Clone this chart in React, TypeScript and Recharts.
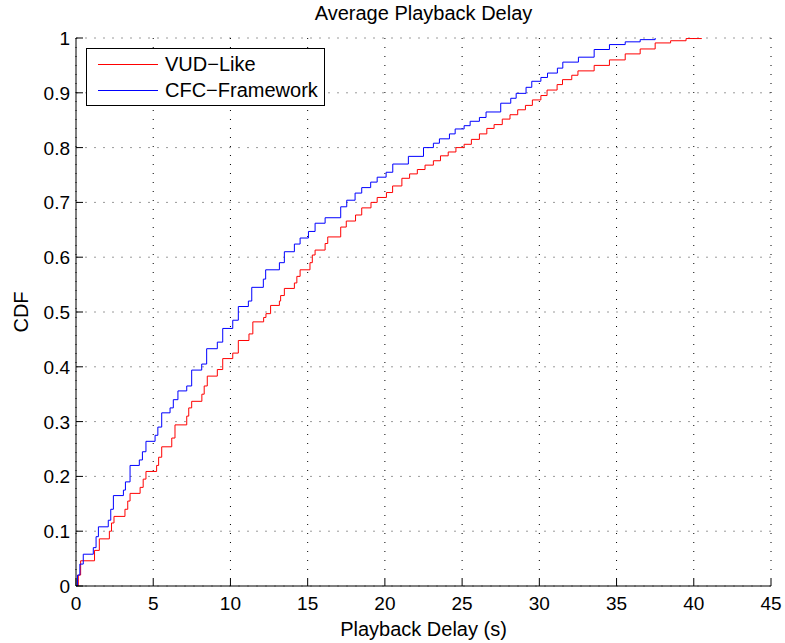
import { LineChart, Line, XAxis, YAxis, CartesianGrid, Legend, Label } from 'recharts';

// delay (s) where each CDF step begins
const vudDelay = [0, 0.15, 0.3, 1.2, 1.51, 2.16, 2.3, 2.46, 3.17, 3.35, 3.5, 4.15, 4.35, 4.53, 5.22, 5.35, 5.55, 6.2, 6.41, 7.17, 7.3, 7.49, 8.15, 8.3, 8.5, 9.15, 9.5, 10.15, 10.51, 11.2, 11.45, 12.15, 12.3, 12.6, 13.17, 13.25, 13.49, 14.14, 14.3, 14.51, 15.15, 15.3, 15.48, 16.13, 16.3, 17.14, 17.5, 18.1, 18.5, 19.1, 19.5, 20.1, 20.5, 21.1, 21.6, 22.1, 22.6, 23.14, 23.6, 24.1, 24.6, 25.13, 25.6, 26.12, 26.6, 27.07, 27.6, 28.1, 28.6, 29.1, 29.55, 30.1, 30.5, 31.15, 31.5, 32.1, 32.5, 33.55, 34.54, 35.56, 36.53, 37.5, 38.5, 39.5, 40.5];
const vudCdf = [0, 0.02, 0.046, 0.065, 0.086, 0.1, 0.115, 0.127, 0.14, 0.155, 0.169, 0.18, 0.195, 0.209, 0.22, 0.235, 0.254, 0.27, 0.294, 0.31, 0.325, 0.337, 0.35, 0.365, 0.383, 0.395, 0.415, 0.425, 0.448, 0.46, 0.482, 0.49, 0.497, 0.512, 0.52, 0.53, 0.543, 0.553, 0.565, 0.577, 0.59, 0.604, 0.613, 0.625, 0.637, 0.655, 0.666, 0.677, 0.69, 0.7, 0.709, 0.718, 0.73, 0.744, 0.752, 0.76, 0.768, 0.776, 0.785, 0.792, 0.8, 0.806, 0.815, 0.825, 0.835, 0.842, 0.852, 0.86, 0.869, 0.877, 0.887, 0.895, 0.905, 0.915, 0.924, 0.932, 0.94, 0.95, 0.96, 0.971, 0.98, 0.991, 0.995, 0.999, 1];

const cfcDelay = [0, 0.1, 0.25, 0.47, 1.12, 1.3, 1.45, 2.09, 2.25, 2.42, 3.07, 3.2, 3.5, 4.1, 4.3, 4.53, 5.12, 5.3, 5.55, 6.09, 6.3, 6.6, 7.17, 7.49, 8.14, 8.46, 9.15, 9.5, 10.15, 10.51, 11.16, 11.38, 12.13, 12.28, 13.17, 13.49, 14.14, 14.51, 15.05, 15.48, 16.13, 17.14, 17.53, 18.07, 18.5, 19.08, 19.5, 20.08, 20.51, 21.52, 22.5, 23.14, 23.53, 24.18, 24.55, 25.13, 25.52, 26.12, 26.55, 27.5, 28.15, 28.5, 29.14, 29.51, 30.1, 30.53, 31.17, 31.52, 32.53, 33.55, 34.54, 35.56, 36.53, 37.5];
const cfcCdf = [0, 0.02, 0.04, 0.058, 0.07, 0.09, 0.108, 0.12, 0.14, 0.165, 0.175, 0.19, 0.22, 0.23, 0.245, 0.264, 0.275, 0.29, 0.316, 0.325, 0.34, 0.356, 0.365, 0.394, 0.405, 0.433, 0.445, 0.47, 0.485, 0.51, 0.52, 0.545, 0.56, 0.577, 0.59, 0.61, 0.624, 0.635, 0.647, 0.662, 0.672, 0.692, 0.704, 0.717, 0.727, 0.737, 0.746, 0.755, 0.77, 0.784, 0.8, 0.808, 0.816, 0.825, 0.834, 0.84, 0.848, 0.855, 0.865, 0.881, 0.89, 0.899, 0.91, 0.921, 0.928, 0.936, 0.945, 0.956, 0.965, 0.979, 0.988, 0.993, 0.997, 1];

const xTicks = [0, 5, 10, 15, 20, 25, 30, 35, 40, 45];
const yTicks = [0, 0.1, 0.2, 0.3, 0.4, 0.5, 0.6, 0.7, 0.8, 0.9, 1];

const vudData = vudDelay.map((x, i) => ({ x, y: vudCdf[i] }));
const cfcData = cfcDelay.map((x, i) => ({ x, y: cfcCdf[i] }));

const FONT = 'Liberation Sans, Arial, Helvetica, sans-serif';
const TICK_LEN = 7;

const BottomTick = ({ x, y, payload }: any) => (
  <g>
    <line x1={x} y1={y} x2={x} y2={y - TICK_LEN} stroke="#000" />
    <text x={x} y={y + 24} textAnchor="middle" fontSize={19} fontFamily={FONT} fill="#000">
      {payload.value}
    </text>
  </g>
);

const TopTick = ({ x, y }: any) => <line x1={x} y1={y} x2={x} y2={y + TICK_LEN} stroke="#000" />;

const LeftTick = ({ x, y, payload }: any) => (
  <g>
    <line x1={x} y1={y} x2={x + TICK_LEN} y2={y} stroke="#000" />
    <text x={x - 6} y={y + 7} textAnchor="end" fontSize={19} fontFamily={FONT} fill="#000">
      {payload.value}
    </text>
  </g>
);

const RightTick = ({ x, y }: any) => <line x1={x} y1={y} x2={x - TICK_LEN} y2={y} stroke="#000" />;

const LegendBox = () => (
  <div
    style={{
      border: '1px solid #000',
      background: '#fff',
      fontFamily: FONT,
      fontSize: 20,
      padding: '2px 6px 2px 11px',
      lineHeight: '26px',
      whiteSpace: 'nowrap',
    }}
  >
    {[
      { name: 'VUD−Like', color: '#ff0000' },
      { name: 'CFC−Framework', color: '#0000ff' },
    ].map((item) => (
      <div key={item.name} style={{ display: 'flex', alignItems: 'center' }}>
        <span style={{ display: 'inline-block', width: 60, height: 1, background: item.color, marginRight: 7 }} />
        <span>{item.name}</span>
      </div>
    ))}
  </div>
);

export default function App() {
  return (
    <div style={{ position: 'absolute', left: 0, top: 0, width: 785, height: 643, background: '#fff' }}>
      <div
        style={{
          position: 'absolute',
          left: 76,
          width: 695,
          top: 2,
          textAlign: 'center',
          fontFamily: FONT,
          fontSize: 20,
          color: '#000',
        }}
      >
        Average Playback Delay
      </div>
      <LineChart width={785} height={643} margin={{ top: 38, right: 14, bottom: 0, left: 0 }}>
        <CartesianGrid horizontal={true} vertical={false} stroke="#9a9a9a" strokeDasharray="2 7" />
        <CartesianGrid horizontal={false} vertical={true} stroke="#000" strokeDasharray="1 8" />
        <XAxis
          dataKey="x"
          type="number"
          domain={[0, 45]}
          ticks={xTicks}
          interval={0}
          allowDataOverflow
          height={57}
          tickSize={0}
          tickMargin={0}
          tick={<BottomTick />}
          axisLine={{ stroke: '#000' }}
        >
          <Label
            content={({ viewBox }: any) => (
              <text
                x={viewBox.x + viewBox.width / 2}
                y={viewBox.y + 50}
                textAnchor="middle"
                fontSize={20}
                fontFamily={FONT}
                fill="#000"
              >
                Playback Delay (s)
              </text>
            )}
          />
        </XAxis>
        <XAxis
          xAxisId="top"
          orientation="top"
          dataKey="x"
          type="number"
          domain={[0, 45]}
          ticks={xTicks}
          interval={0}
          height={0}
          tickSize={0}
          tickMargin={0}
          tick={<TopTick />}
          axisLine={{ stroke: '#000' }}
        />
        <YAxis
          type="number"
          domain={[0, 1]}
          ticks={yTicks}
          interval={0}
          allowDataOverflow
          width={76}
          tickSize={0}
          tickMargin={0}
          tick={<LeftTick />}
          axisLine={{ stroke: '#000' }}
        >
          <Label
            content={({ viewBox }: any) => {
              const cx = viewBox.x + 21;
              const cy = viewBox.y + viewBox.height / 2;
              return (
                <text
                  x={cx}
                  y={cy}
                  transform={`rotate(-90 ${cx} ${cy})`}
                  textAnchor="middle"
                  dominantBaseline="central"
                  fontSize={20}
                  fontFamily={FONT}
                  fill="#000"
                >
                  CDF
                </text>
              );
            }}
          />
        </YAxis>
        <YAxis
          yAxisId="right"
          orientation="right"
          type="number"
          domain={[0, 1]}
          ticks={yTicks}
          interval={0}
          width={0}
          tickSize={0}
          tickMargin={0}
          tick={<RightTick />}
          axisLine={{ stroke: '#000' }}
        />
        {/* horizontal + middle + center keeps the legend from shrinking the plot */}
        <Legend
          layout="horizontal"
          verticalAlign="middle"
          align="center"
          content={<LegendBox />}
          wrapperStyle={{ left: 86, top: 48, width: 'auto', height: 'auto' }}
        />
        <Line
          data={vudData}
          dataKey="y"
          name="VUD−Like"
          type="stepAfter"
          stroke="#ff0000"
          strokeWidth={1}
          dot={false}
          isAnimationActive={false}
        />
        <Line
          data={cfcData}
          dataKey="y"
          name="CFC−Framework"
          type="stepAfter"
          stroke="#0000ff"
          strokeWidth={1}
          dot={false}
          isAnimationActive={false}
        />
      </LineChart>
    </div>
  );
}
